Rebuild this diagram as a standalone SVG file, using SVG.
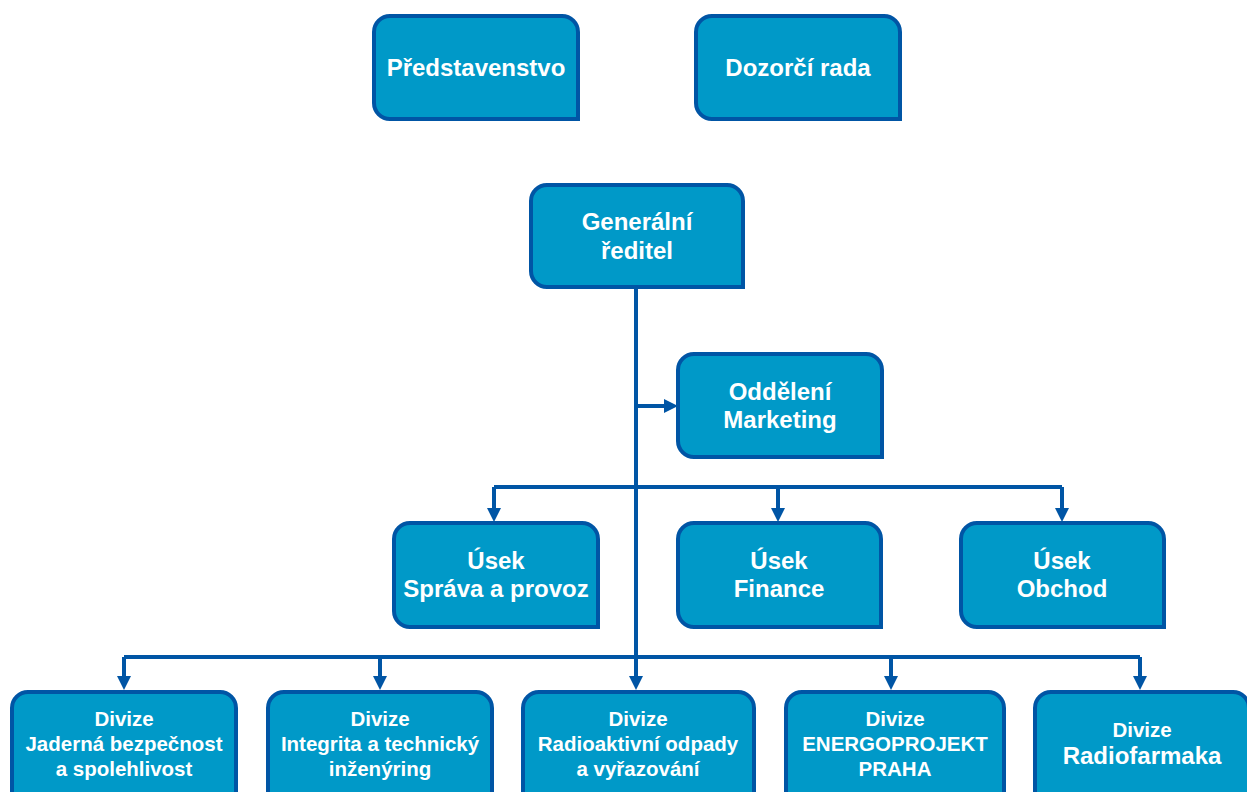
<svg xmlns="http://www.w3.org/2000/svg" width="1247" height="792" viewBox="0 0 1247 792">
<style>
.box{fill:#0099C8;stroke:#0055A5;stroke-width:4}
.t{font-family:"Liberation Sans",Arial,sans-serif;font-weight:bold;fill:#fff;text-anchor:middle;font-size:24px}
.s{font-size:20.5px}
.c{fill:none;stroke:#0055A5;stroke-width:4}
.a{fill:none;stroke:#0055A5;stroke-width:4;marker-end:url(#ah)}
</style>
<defs>
<marker id="ah" markerUnits="userSpaceOnUse" viewBox="0 0 14 14" markerWidth="14" markerHeight="14" refX="0" refY="7" orient="auto">
<path d="M0,0 L14,7 L0,14 z" fill="#0055A5"/>
</marker>
</defs>
<rect width="1247" height="792" fill="#fff"/>
<g id="connectors">
<path class="c" d="M636,288 V657"/>
<path class="a" d="M636,406 H664"/>
<path class="c" d="M494,487 H1062"/>
<path class="a" d="M494,487 V508"/>
<path class="a" d="M778,487 V508"/>
<path class="a" d="M1062,487 V508"/>
<path class="c" d="M124,657 H1140"/>
<path class="a" d="M124,657 V676"/>
<path class="a" d="M380,657 V676"/>
<path class="a" d="M636,657 V676"/>
<path class="a" d="M891,657 V676"/>
<path class="a" d="M1140,657 V676"/>
</g>
<g id="predstavenstvo">
<path class="box" d="M390,16 H562 A16,16 0 0 1 578,32 V119 H390 A16,16 0 0 1 374,103 V32 A16,16 0 0 1 390,16 Z"/>
<text class="t" x="476" y="76">Představenstvo</text>
</g>
<g id="dozorci-rada">
<path class="box" d="M712,16 H884 A16,16 0 0 1 900,32 V119 H712 A16,16 0 0 1 696,103 V32 A16,16 0 0 1 712,16 Z"/>
<text class="t" x="798" y="76">Dozorčí rada</text>
</g>
<g id="generalni-reditel">
<path class="box" d="M547,185 H727 A16,16 0 0 1 743,201 V287 H547 A16,16 0 0 1 531,271 V201 A16,16 0 0 1 547,185 Z"/>
<text class="t" x="637" y="230">Generální</text>
<text class="t" x="637" y="259">ředitel</text>
</g>
<g id="marketing">
<path class="box" d="M694,354 H866 A16,16 0 0 1 882,370 V457 H694 A16,16 0 0 1 678,441 V370 A16,16 0 0 1 694,354 Z"/>
<text class="t" x="780" y="400">Oddělení</text>
<text class="t" x="780" y="428">Marketing</text>
</g>
<g id="usek-sprava">
<path class="box" d="M410,523 H582 A16,16 0 0 1 598,539 V627 H410 A16,16 0 0 1 394,611 V539 A16,16 0 0 1 410,523 Z"/>
<text class="t" x="496" y="569">Úsek</text>
<text class="t" x="496" y="597">Správa a provoz</text>
</g>
<g id="usek-finance">
<path class="box" d="M694,523 H865 A16,16 0 0 1 881,539 V627 H694 A16,16 0 0 1 678,611 V539 A16,16 0 0 1 694,523 Z"/>
<text class="t" x="779" y="569">Úsek</text>
<text class="t" x="779" y="597">Finance</text>
</g>
<g id="usek-obchod">
<path class="box" d="M977,523 H1148 A16,16 0 0 1 1164,539 V627 H977 A16,16 0 0 1 961,611 V539 A16,16 0 0 1 977,523 Z"/>
<text class="t" x="1062" y="569">Úsek</text>
<text class="t" x="1062" y="597">Obchod</text>
</g>
<g id="divize-jaderna">
<path class="box" d="M28,692 H220 A16,16 0 0 1 236,708 V800 H12 V708 A16,16 0 0 1 28,692 Z"/>
<text class="t s" x="124" y="726">Divize</text>
<text class="t s" x="124" y="751">Jaderná bezpečnost</text>
<text class="t s" x="124" y="776">a spolehlivost</text>
</g>
<g id="divize-integrita">
<path class="box" d="M284,692 H476 A16,16 0 0 1 492,708 V800 H268 V708 A16,16 0 0 1 284,692 Z"/>
<text class="t s" x="380" y="726">Divize</text>
<text class="t s" x="380" y="751">Integrita a technický</text>
<text class="t s" x="380" y="776">inženýring</text>
</g>
<g id="divize-radioaktivni">
<path class="box" d="M539,692 H738 A16,16 0 0 1 754,708 V800 H523 V708 A16,16 0 0 1 539,692 Z"/>
<text class="t s" x="638" y="726">Divize</text>
<text class="t s" x="638" y="751">Radioaktivní odpady</text>
<text class="t s" x="638" y="776">a vyřazování</text>
</g>
<g id="divize-energoprojekt">
<path class="box" d="M802,692 H988 A16,16 0 0 1 1004,708 V800 H786 V708 A16,16 0 0 1 802,692 Z"/>
<text class="t s" x="895" y="726">Divize</text>
<text class="t s" x="895" y="751">ENERGOPROJEKT</text>
<text class="t s" x="895" y="776">PRAHA</text>
</g>
<g id="divize-radiofarmaka">
<path class="box" d="M1051,692 H1233 A16,16 0 0 1 1249,708 V800 H1035 V708 A16,16 0 0 1 1051,692 Z"/>
<text class="t s" x="1142" y="737">Divize</text>
<text class="t" x="1142" y="764">Radiofarmaka</text>
</g>
</svg>
